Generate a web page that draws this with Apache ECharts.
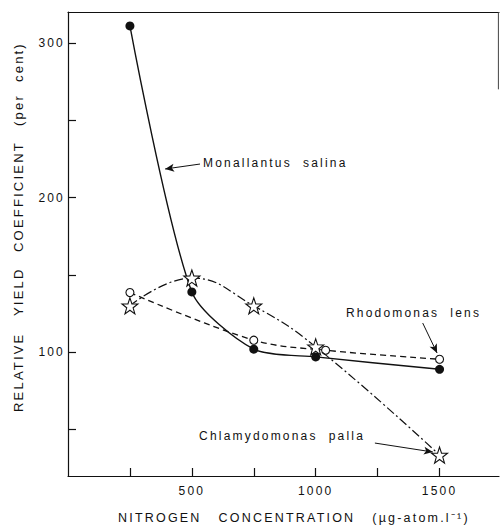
<!DOCTYPE html>
<html>
<head>
<meta charset="utf-8">
<script src="https://cdn.jsdelivr.net/npm/echarts@6/dist/echarts.min.js"></script>
<style>
  html, body { margin: 0; padding: 0; background: #fff; }
  #chart { width: 500px; height: 529px; }
  /* hand-lettered look: widely spaced capitals and figures */
  #chart svg text { letter-spacing: 2.2px; white-space: pre; }
</style>
</head>
<body>
<div id="chart"></div>
<script>
// Nitrogen concentration (µg-atom/l) and relative yield coefficient (%)
const nitrogen = [250, 500, 750, 1000, 1500];
const monallantus = [311, 139, 102, 97, 89];
const rhodomonasN = [250, 750, 1040, 1500];
const rhodomonas = [138.6, 107.8, 101.3, 95.5];
const chlamydomonas = [130, 148, 130, 103.5, 33.5];

const xTicks = [250, 500, 750, 1000, 1250, 1500];
const xLabels = [500, 1000, 1500];
const yTicks = [50, 100, 150, 200, 250, 300];
const yLabels = [100, 200, 300];

// Species labels with their pointer arrows, in data units
const speciesNames = ['Monallantus  salina', 'Rhodomonas  lens', 'Chlamydomonas  palla'];
const nameAnchors = [[545, 222.4], [1122, 125.4], [529, 45.9]];
const arrowFrom = [[533, 221.7], [1432, 118.9], [1239, 41.3]];
const arrowTo = [[392, 218.5], [1490, 99.5], [1473, 35.5]];

// Vertical axis title, one word at a time (word, start y in px, reading upward)
const yTitleWords = ['RELATIVE', 'YIELD', 'COEFFICIENT', '(per', 'cent)'];
const yTitleStarts = [412, 316, 252, 126, 82];

const FONT = 'Liberation Sans';
const INK = '#111';
const starPath = 'path://M0,-10 L2.35,-3.24 L9.51,-3.09 L3.8,1.24 L5.88,8.09 L0,4 L-5.88,8.09 L-3.8,1.24 L-9.51,-3.09 L-2.35,-3.24Z';

const pairs = (xs, ys) => xs.map((x, i) => [x, ys[i]]);

function arrow(i) {
  return {
    silent: true,
    symbol: ['none', 'arrow'],
    symbolSize: [6, 9],
    lineStyle: { color: INK, width: 1, type: 'solid' },
    label: { show: false },
    emphasis: { disabled: true },
    data: [[{ coord: arrowFrom[i] }, { coord: arrowTo[i] }]]
  };
}

const chart = echarts.init(document.getElementById('chart'), null, { renderer: 'svg' });

chart.setOption({
  animation: false,
  backgroundColor: '#fff',
  textStyle: { fontFamily: FONT },
  grid: { left: 68, right: 1, top: 12, bottom: 53, containLabel: false },
  xAxis: [{
    type: 'value', min: 0, max: 1740,
    axisLine: { lineStyle: { color: INK, width: 1.2 } },
    axisTick: { inside: true, length: 8, customValues: xTicks, lineStyle: { color: INK, width: 1.2 } },
    axisLabel: { customValues: xLabels, margin: 9, color: INK, fontSize: 12, fontFamily: FONT, formatter: (v) => String(v) },
    splitLine: { show: false }
  }, {
    type: 'value', min: 0, max: 1740, position: 'top',
    axisLine: { show: true, lineStyle: { color: INK, width: 1.2 } },
    axisTick: { show: false }, axisLabel: { show: false }, splitLine: { show: false }
  }],
  yAxis: [{
    type: 'value', min: 20, max: 320,
    axisLine: { show: true, lineStyle: { color: INK, width: 1.2 } },
    axisTick: { inside: true, length: 8, customValues: yTicks, lineStyle: { color: INK, width: 1.2 } },
    axisLabel: { customValues: yLabels, margin: 3, color: INK, fontSize: 12, fontFamily: FONT, formatter: (v) => String(v) },
    splitLine: { show: false }
  }],
  series: [{
    name: 'Monallantus salina',
    type: 'line',
    data: pairs(nitrogen, monallantus),
    smooth: 0.25,
    symbol: 'circle',
    symbolSize: 9,
    itemStyle: { color: INK },
    lineStyle: { color: INK, width: 1.4 },
    z: 3,
    markLine: arrow(0)
  }, {
    name: 'Rhodomonas lens',
    type: 'line',
    data: pairs(rhodomonasN, rhodomonas),
    smooth: 0.35,
    symbol: 'circle',
    symbolSize: 8,
    itemStyle: { color: '#fff', borderColor: INK, borderWidth: 1.1 },
    lineStyle: { color: INK, width: 1.3, type: [6, 4] },
    z: 4,
    markLine: arrow(1)
  }, {
    name: 'Chlamydomonas palla',
    type: 'line',
    data: pairs(nitrogen, chlamydomonas),
    smooth: 0.45,
    symbol: starPath,
    symbolSize: 16,
    itemStyle: { color: '#fff', borderColor: INK, borderWidth: 1.1 },
    lineStyle: { color: INK, width: 1.2, type: [9, 3, 2, 3] },
    z: 5,
    markLine: arrow(2)
  }]
});

// Axis titles, species names and the short right-hand frame edge
const px = (p) => chart.convertToPixel({ gridIndex: 0 }, p);
const graphics = speciesNames.map((name, i) => {
  const p = px(nameAnchors[i]);
  return {
    type: 'text', x: p[0], y: p[1], z: 10,
    style: { text: name, font: '12px "' + FONT + '"', fill: INK, textAlign: 'left', textVerticalAlign: 'middle' }
  };
});
graphics.push({
  type: 'text', x: 118, y: 518, z: 10,
  style: { text: 'NITROGEN   CONCENTRATION   (\u00b5g-atom.l\u207b\u00b9)', font: '12.5px "' + FONT + '"', fill: INK, textAlign: 'left', textVerticalAlign: 'middle' }
});
yTitleWords.forEach((word, i) => {
  graphics.push({
    type: 'text', x: 18, y: yTitleStarts[i], rotation: Math.PI / 2, z: 10,
    style: { text: word, font: '13px "' + FONT + '"', fill: INK, textAlign: 'left', textVerticalAlign: 'middle' }
  });
});
const edgeTop = px([1740, 320]);
const edgeBottom = px([1740, 270]);
graphics.push({
  type: 'line', z: 10,
  shape: { x1: edgeTop[0] - 0.6, y1: edgeTop[1], x2: edgeBottom[0] - 0.6, y2: edgeBottom[1] },
  style: { stroke: '#444', lineWidth: 1 }
});
chart.setOption({ graphic: graphics });
</script>
</body>
</html>
